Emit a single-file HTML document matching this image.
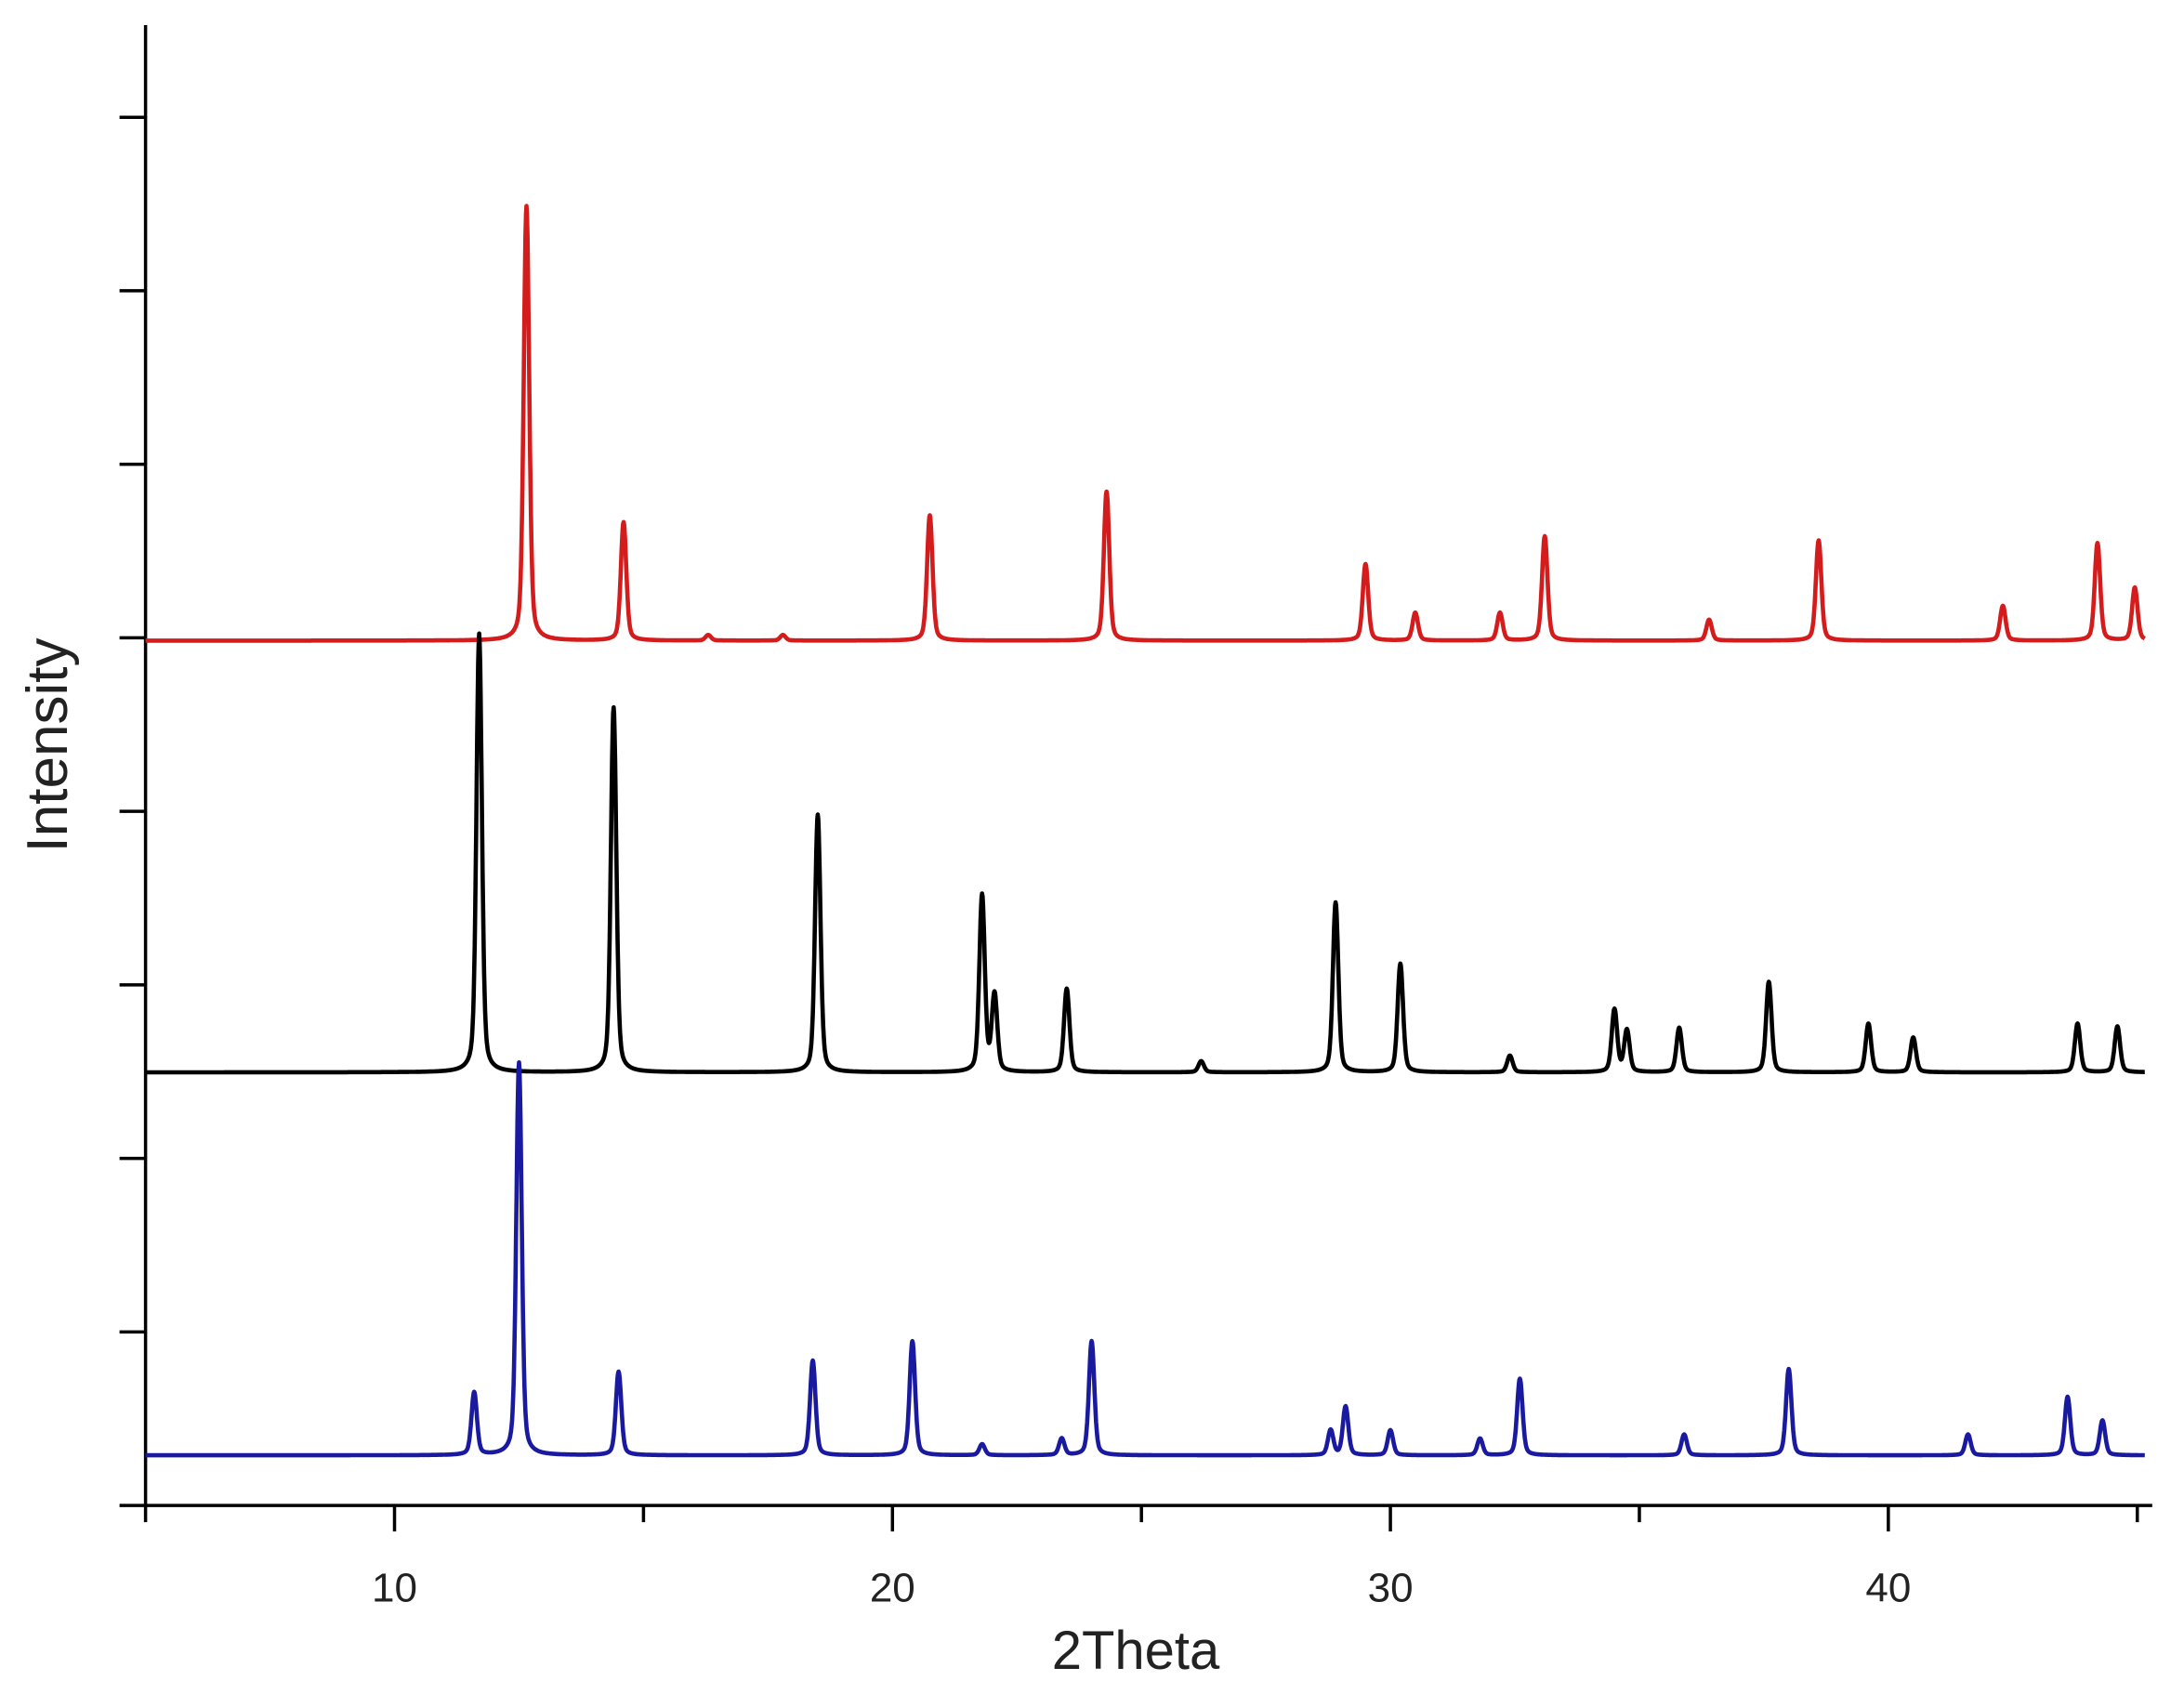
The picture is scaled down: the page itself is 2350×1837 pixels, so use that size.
<!DOCTYPE html>
<html><head><meta charset="utf-8"><style>
html,body{margin:0;padding:0;background:#fff;}
svg{display:block;font-family:"Liberation Sans",sans-serif;}
</style></head><body>
<svg id="chart" width="2350" height="1837" viewBox="0 0 2350 1837">
<g id="axes"></g>
<g id="series"></g>
<text x="0" y="0" transform="translate(72,802) rotate(-90)" text-anchor="middle" font-size="62" fill="#222">Intensity</text>
<text x="1222" y="1796" text-anchor="middle" font-size="58" fill="#222">2Theta</text>
</svg>
<script>
const xTicks=[10,20,30,40];
const xTickLabels=["10","20","30","40"];
const redPos=[12.65,14.6,16.3,17.8,20.75,24.3,29.5,30.5,32.2,33.1,36.4,38.6,42.3,44.2,44.95];
const redInt=[312,85,4,4,90,107,55,20,20,75,15,72,25,70,38];
const blackPos=[11.7,14.4,18.5,21.8,22.05,23.5,26.2,28.9,30.2,32.4,34.5,34.75,35.8,37.6,39.6,40.5,43.8,44.6];
const blackInt=[315,262,185,127,55,60,8,122,78,12,45,30,32,65,35,25,35,33];
const bluePos=[11.6,12.5,14.5,18.4,20.4,21.8,23.4,24.0,28.8,29.1,30.0,31.8,32.6,35.9,38.0,41.6,43.6,44.3];
const blueInt=[45,282,60,68,82,8,12,82,18,35,18,12,55,15,62,15,42,25];
const seriesBase=[460,770,1045];
const NS="http://www.w3.org/2000/svg";
const S=1.4987;
function X(v){return (104.5+(v-5)*35.75)*S;}
function Y(d){return d*S;}
const ax=document.getElementById('axes');
function line(x1,y1,x2,y2,name,w){const l=document.createElementNS(NS,'line');l.setAttribute('x1',x1);l.setAttribute('y1',y1);l.setAttribute('x2',x2);l.setAttribute('y2',y2);l.setAttribute('stroke','#000');l.setAttribute('stroke-width',w||3.5);


ax.appendChild(l);}
line(X(5),Y(18),X(5),Y(1081),'y-axis-line');
line(X(5),Y(1081),X(45.3),Y(1081),'x-axis-line');
for(let i=0;i<9;i++){const yy=Y(1081-i*124.6);line(X(5)-28,yy,X(5),yy,'y-tick');}
for(let v=5;v<=45;v+=5){const major=v%10===0;line(X(v),Y(1081),X(v),Y(1081)+(major?28:18),'x-tick');}
xTicks.forEach((v,i)=>{const t=document.createElementNS(NS,'text');t.setAttribute('x',X(v));t.setAttribute('y',Y(1150));t.setAttribute('text-anchor','middle');t.setAttribute('font-size','44');t.setAttribute('fill','#222');t.textContent=xTickLabels[i];


ax.appendChild(t);});
const sg=document.getElementById('series');
function draw(pos,ints,base,color,name){let d='';for(let x=5;x<=45.15;x+=0.01){let y=0;for(let i=0;i<pos.length;i++){const dx=(x-pos[i])/0.075;y+=ints[i]*(0.7*Math.exp(-dx*dx)+0.3/(1+dx*dx));}
d+=(d?'L':'M')+X(x).toFixed(1)+','+Y(base-y).toFixed(1);}
const p=document.createElementNS(NS,'path');p.setAttribute('d',d);p.setAttribute('fill','none');p.setAttribute('stroke',color);p.setAttribute('stroke-width','4.6');p.setAttribute('stroke-linejoin','round');


sg.appendChild(p);}
draw(redPos,redInt,seriesBase[0],'#d41c1c','red-pattern');
draw(blackPos,blackInt,seriesBase[1],'#000','black-pattern');
draw(bluePos,blueInt,seriesBase[2],'#1a1aa0','blue-pattern');
</script>
</body></html>
